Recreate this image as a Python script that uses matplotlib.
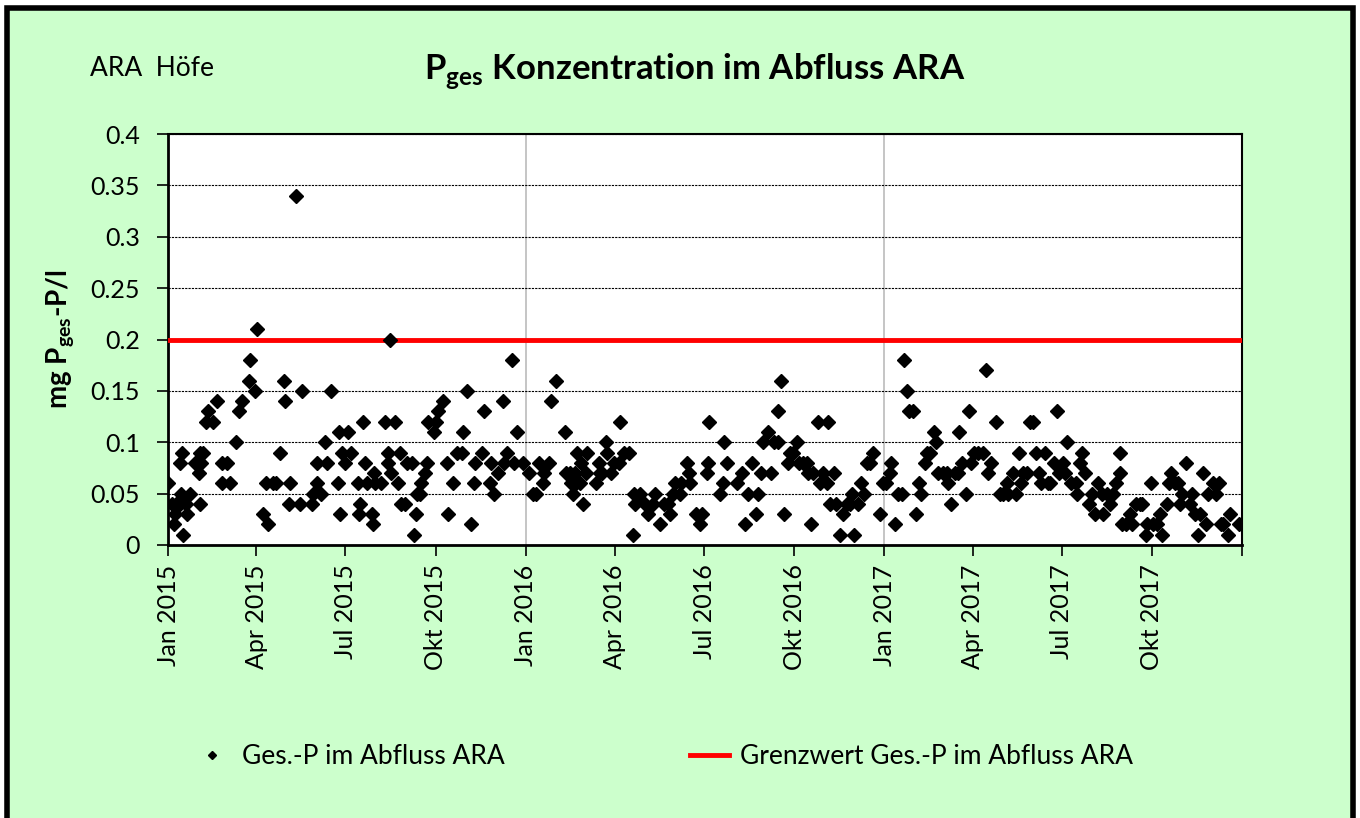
#!/usr/bin/env python3
# -*- coding: utf-8 -*-

import numpy as np
import matplotlib
matplotlib.use("Agg")
import matplotlib.pyplot as plt
from matplotlib.patches import Rectangle

plt.rcParams['font.family'] = ['Lato', 'DejaVu Sans']
plt.rcParams['mathtext.fontset'] = 'custom'
plt.rcParams['mathtext.rm'] = 'Lato'
plt.rcParams['mathtext.bf'] = 'Lato:bold'

# days since 2015-01-01 and measured Ges.-P [mg/l]
DAYS = [
    0, 4, 6, 7, 8, 12, 12, 13, 14, 15, 18, 19, 22, 28, 32, 33, 33, 34, 36, 39,
    41, 46, 50, 55, 55, 60, 63, 69, 72, 76, 83, 84, 89, 91, 97, 100, 102, 107, 110, 114,
    118, 119, 123, 124, 131, 135, 137, 147, 148, 152, 152, 156, 160, 162, 166, 173, 174, 176, 178, 181,
    184, 187, 194, 195, 196, 199, 201, 203, 208, 209, 210, 211, 217, 221, 224, 225, 227, 228, 232, 235,
    237, 238, 242, 244, 249, 251, 254, 253, 257, 258, 262, 264, 265, 271, 273, 276, 281, 285, 286, 291,
    295, 300, 301, 305, 309, 312, 313, 320, 322, 329, 330, 333, 337, 342, 343, 346, 351, 353, 356, 362,
    368, 372, 376, 379, 383, 384, 389, 391, 396, 405, 406, 410, 411, 413, 415, 416, 417, 420, 421, 423,
    427, 428, 437, 440, 441, 443, 447, 448, 452, 455, 460, 461, 465, 470, 475, 476, 477, 482, 487, 490,
    495, 497, 502, 506, 510, 512, 515, 517, 522, 524, 530, 532, 533, 539, 543, 545, 550, 551, 552, 563,
    566, 567, 570, 581, 586, 589, 592, 596, 600, 602, 605, 607, 612, 615, 618, 622, 623, 626, 629, 633,
    635, 638, 642, 644, 648, 652, 653, 656, 658, 663, 665, 668, 672, 674, 676, 680, 682, 686, 689, 693,
    696, 698, 700, 704, 707, 710, 713, 716, 719, 727, 730, 733, 737, 738, 742, 745, 749, 751, 754, 756,
    760, 763, 766, 768, 772, 775, 778, 782, 784, 786, 791, 795, 796, 799, 803, 806, 807, 810, 814, 817,
    819, 822, 827, 832, 835, 837, 840, 845, 849, 852, 856, 857, 862, 865, 868, 870, 873, 877, 880, 883,
    886, 889, 891, 895, 898, 900, 904, 907, 909, 913, 915, 917, 922, 927, 928, 931, 933, 936, 940, 943,
    946, 949, 953, 954, 958, 961, 964, 967, 971, 972, 974, 978, 982, 984, 988, 992, 994, 998, 999, 1003,
    1005, 1009, 1012, 1014, 1019, 1021, 1024, 1028, 1031, 1033, 1035, 1039, 1043, 1045, 1048, 1051, 1053, 1056, 1059, 1061,
    1066, 1069, 1073, 1075, 1077, 1082, 1084, 1093,
]
PGES = [
    0.06, 0.04, 0.02, 0.03, 0.04, 0.08, 0.04, 0.05, 0.09, 0.01, 0.04, 0.03, 0.05, 0.08, 0.07, 0.09, 0.04, 0.08, 0.09, 0.12,
    0.13, 0.12, 0.14, 0.08, 0.06, 0.08, 0.06, 0.10, 0.13, 0.14, 0.16, 0.18, 0.15, 0.21, 0.03, 0.06, 0.02, 0.06, 0.06, 0.09,
    0.16, 0.14, 0.04, 0.06, 0.34, 0.04, 0.15, 0.04, 0.05, 0.06, 0.08, 0.05, 0.10, 0.08, 0.15, 0.06, 0.11, 0.03, 0.09, 0.08,
    0.11, 0.09, 0.06, 0.03, 0.04, 0.12, 0.08, 0.06, 0.03, 0.02, 0.07, 0.06, 0.06, 0.12, 0.08, 0.09, 0.20, 0.07, 0.12, 0.06,
    0.09, 0.04, 0.04, 0.08, 0.08, 0.01, 0.05, 0.03, 0.05, 0.06, 0.07, 0.08, 0.12, 0.11, 0.12, 0.13, 0.14, 0.08, 0.03, 0.06,
    0.09, 0.09, 0.11, 0.15, 0.02, 0.06, 0.08, 0.09, 0.13, 0.06, 0.08, 0.05, 0.07, 0.14, 0.08, 0.09, 0.18, 0.08, 0.11, 0.08,
    0.07, 0.05, 0.05, 0.08, 0.06, 0.07, 0.08, 0.14, 0.16, 0.11, 0.07, 0.07, 0.06, 0.05, 0.07, 0.06, 0.09, 0.06, 0.08, 0.04,
    0.07, 0.09, 0.06, 0.08, 0.07, 0.07, 0.10, 0.09, 0.07, 0.08, 0.08, 0.12, 0.09, 0.09, 0.01, 0.05, 0.04, 0.05, 0.04, 0.03,
    0.04, 0.05, 0.02, 0.04, 0.04, 0.03, 0.05, 0.06, 0.05, 0.06, 0.08, 0.07, 0.06, 0.03, 0.02, 0.03, 0.07, 0.08, 0.12, 0.05,
    0.06, 0.10, 0.08, 0.06, 0.07, 0.02, 0.05, 0.08, 0.03, 0.05, 0.07, 0.10, 0.11, 0.07, 0.10, 0.10, 0.13, 0.16, 0.03, 0.08,
    0.09, 0.09, 0.10, 0.08, 0.08, 0.08, 0.07, 0.02, 0.07, 0.12, 0.06, 0.07, 0.06, 0.12, 0.04, 0.07, 0.04, 0.01, 0.03, 0.04,
    0.04, 0.05, 0.01, 0.04, 0.06, 0.05, 0.08, 0.08, 0.09, 0.03, 0.06, 0.06, 0.07, 0.08, 0.02, 0.05, 0.05, 0.18, 0.15, 0.13,
    0.13, 0.03, 0.06, 0.05, 0.08, 0.09, 0.09, 0.11, 0.10, 0.07, 0.07, 0.07, 0.06, 0.04, 0.07, 0.07, 0.11, 0.08, 0.05, 0.13,
    0.08, 0.09, 0.09, 0.09, 0.17, 0.07, 0.08, 0.12, 0.05, 0.05, 0.06, 0.05, 0.07, 0.05, 0.09, 0.06, 0.07, 0.07, 0.12, 0.12,
    0.09, 0.07, 0.06, 0.09, 0.06, 0.06, 0.08, 0.13, 0.07, 0.08, 0.07, 0.10, 0.06, 0.06, 0.05, 0.08, 0.09, 0.07, 0.04, 0.05,
    0.03, 0.06, 0.05, 0.03, 0.05, 0.04, 0.05, 0.06, 0.07, 0.09, 0.02, 0.02, 0.03, 0.02, 0.04, 0.04, 0.04, 0.01, 0.02, 0.06,
    0.02, 0.02, 0.03, 0.01, 0.04, 0.06, 0.07, 0.06, 0.06, 0.04, 0.05, 0.08, 0.04, 0.05, 0.03, 0.01, 0.03, 0.07, 0.02, 0.05,
    0.06, 0.05, 0.06, 0.02, 0.02, 0.01, 0.03, 0.02,
]
GRENZWERT = 0.2

XTICKS = ['2015-01-01', '2015-04-01', '2015-07-01', '2015-10-01',
          '2016-01-01', '2016-04-01', '2016-07-01', '2016-10-01',
          '2017-01-01', '2017-04-01', '2017-07-01', '2017-10-01', '2018-01-01']
XTICKLABELS = ['Jan 2015', 'Apr 2015', 'Jul 2015', 'Okt 2015',
               'Jan 2016', 'Apr 2016', 'Jul 2016', 'Okt 2016',
               'Jan 2017', 'Apr 2017', 'Jul 2017', 'Okt 2017', '']
YEARLINES = ['2016-01-01', '2017-01-01']

BGCOLOR = '#CCFFCC'
TICKLBLSIZE = 18
LEGENDSIZE = 19


def main():
    start = np.datetime64('2015-01-01')
    dates = start + np.array(DAYS).astype('timedelta64[D]')

    fig = plt.figure(figsize=(13.6, 8.18), dpi=100)
    fig.patch.set_facecolor('white')
    # green chart area with black frame (bottom edge runs off the picture)
    fig.patches.append(Rectangle((0.0055, -0.02), 0.9890, 1.010, transform=fig.transFigure,
                                 facecolor=BGCOLOR, edgecolor='black', linewidth=4, zorder=-10))

    ax = fig.add_axes([168 / 1360, 1 - 545 / 818, 1074 / 1360, 411 / 818])
    ax.set_facecolor('white')

    ax.plot(dates, PGES, linestyle='none', marker='D', markersize=7.5, color='black',
            label='Ges.-P im Abfluss ARA', zorder=4)
    ax.axhline(GRENZWERT, color='#FF0000', linewidth=3.5, label='Grenzwert Ges.-P im Abfluss ARA', zorder=3)

    ax.set_xlim(np.datetime64('2015-01-01'), np.datetime64('2018-01-01'))
    ax.set_xticks([np.datetime64(d) for d in XTICKS])
    ax.set_xticklabels(XTICKLABELS, rotation=90, size=TICKLBLSIZE)
    for d in YEARLINES:
        ax.axvline(np.datetime64(d), color='#BBBBBB', linewidth=1.2, zorder=1)

    yt = np.arange(0, 0.401, 0.05)
    ax.set_ylim(0, 0.4)
    ax.set_yticks(yt)
    ax.set_yticklabels(['0'] + [f'{v:g}' for v in yt[1:]], size=TICKLBLSIZE)
    ax.yaxis.grid(True, linestyle=(0, (2, 1)), color='black', linewidth=0.8)

    ax.tick_params(axis='both', direction='out', length=8, width=1.2, colors='black')
    ax.tick_params(axis='x', pad=6)
    ax.tick_params(axis='y', pad=12)
    for s in ['left', 'bottom']:
        ax.spines[s].set_linewidth(2)
    for s in ['top', 'right']:
        ax.spines[s].set_linewidth(1.5)

    ax.set_ylabel(r'mg P$_{\mathbf{ges}}$-P/l', size=20, fontweight='bold', labelpad=10)

    fig.text(90 / 1360, 1 - 68 / 818, 'ARA  Höfe', size=19, ha='left', va='center')
    fig.text(695 / 1360, 1 - 71 / 818, r'P$_{\mathbf{ges}}$ Konzentration im Abfluss ARA',
             size=25, fontweight='bold', ha='center', va='center')

    fig.legend(loc='center', bbox_to_anchor=(0.487, 1 - 757 / 818), ncol=2, frameon=False,
               fontsize=LEGENDSIZE, columnspacing=7.0, handlelength=1.5, handletextpad=0.4,
               markerscale=0.6)

    plt.savefig('out.png', dpi=100, facecolor=fig.get_facecolor())
    plt.close()


if __name__ == "__main__":
    main()
